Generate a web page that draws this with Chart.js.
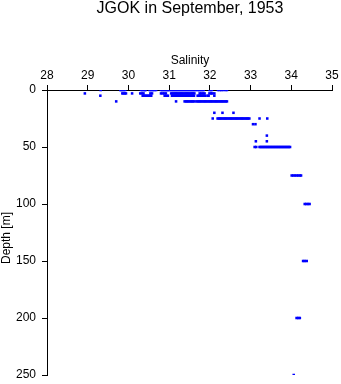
<!DOCTYPE html>
<html>
<head>
<meta charset="utf-8">
<script src="https://cdn.jsdelivr.net/npm/chart.js@4"></script>
<style>
  body { margin: 0; background: #fff; }
  canvas { display: block; }
</style>
</head>
<body>
<canvas id="myChart" width="341" height="384"></canvas>
<script>
const depths = [0, 3, 5, 10, 20, 25, 30, 40, 45, 50, 75, 100, 150, 200, 250];

const sal0 = [29.32, 29.80, 29.83, 29.86, 29.89, 29.92, 30.31, 30.34, 30.37, 30.40, 30.42,
  30.52, 30.55, 30.58, 30.61, 30.64, 30.68, 30.80, 30.83, 30.86, 30.89, 30.92, 30.95, 30.98, 31.01,
  31.05, 31.08, 31.11, 31.14, 31.17, 31.20, 31.23, 31.26, 31.29, 31.32, 31.35, 31.38, 31.41, 31.44,
  31.47, 31.50, 31.53, 31.56, 31.59, 31.62, 31.65, 31.70, 31.73, 31.76, 31.79, 31.82, 31.85,
  31.99, 32.02, 32.05, 32.20, 32.24, 32.28, 32.32, 32.38, 32.42];
const sal3 = [28.93, 29.85, 29.88, 29.91, 29.94, 30.09, 30.29, 30.33, 30.37, 30.54, 30.58,
  30.80, 30.84, 30.88, 30.92, 31.05, 31.08, 31.11, 31.14, 31.17, 31.20, 31.23, 31.26, 31.29, 31.32,
  31.35, 31.38, 31.41, 31.44, 31.47, 31.50, 31.53, 31.56, 31.59, 31.62, 31.75, 31.79, 31.83, 31.87,
  31.99, 32.03, 32.06, 32.11];
const sal5 = [29.31, 30.35, 30.38, 30.41, 30.44, 30.47, 30.50, 30.53, 30.56, 30.89, 30.93, 30.97,
  31.07, 31.10, 31.13, 31.16, 31.19, 31.22, 31.25, 31.28, 31.31, 31.34, 31.37, 31.40, 31.43, 31.46,
  31.49, 31.52, 31.55, 31.58, 31.61, 31.70, 31.73, 31.76, 31.79, 31.82, 31.85, 31.88, 31.94, 31.97, 32.11];
const sal10 = [29.70, 31.17, 31.38, 31.41, 31.44, 31.47, 31.50, 31.53, 31.56, 31.59, 31.62, 31.67,
  31.70, 31.73, 31.76, 31.79, 31.82, 31.85, 31.88, 31.91, 31.94, 31.97, 32.00, 32.03, 32.06, 32.09,
  32.12, 32.15, 32.18, 32.21, 32.24, 32.27, 32.30, 32.33, 32.36, 32.39, 32.42];
const sal20 = [32.11, 32.31, 32.58];
const sal25 = [32.07, 32.19, 32.22, 32.25, 32.28, 32.31, 32.34, 32.37, 32.40, 32.43, 32.46, 32.49,
  32.52, 32.55, 32.58, 32.61, 32.64, 32.67, 32.70, 32.73, 32.76, 32.79, 32.82, 32.85, 32.88, 32.91,
  32.94, 32.97, 33.22, 33.41];
const sal30 = [33.06, 33.12];
const sal40 = [33.40];
const sal45 = [33.13, 33.40];
const sal50 = [33.10, 33.14, 33.22, 33.25, 33.28, 33.31, 33.34, 33.37, 33.40, 33.43, 33.46, 33.49,
  33.52, 33.55, 33.58, 33.61, 33.64, 33.67, 33.70, 33.73, 33.76, 33.79, 33.82, 33.85, 33.88, 33.91,
  33.94, 33.97];
const sal75 = [34.01, 34.05, 34.09, 34.13, 34.17, 34.21, 34.24];
const sal100 = [34.33, 34.37, 34.41, 34.45];
const sal150 = [34.29, 34.33, 34.38];
const sal200 = [34.13, 34.17, 34.21];
const sal250 = [34.06];

const salinityByDepth = [sal0, sal3, sal5, sal10, sal20, sal25, sal30, sal40, sal45, sal50,
  sal75, sal100, sal150, sal200, sal250];

const xTicks = [28, 29, 30, 31, 32, 33, 34, 35];
const yTicks = [0, 50, 100, 150, 200, 250];

const FONT = "'Liberation Sans', Arial, Helvetica, sans-serif";

// puntos (salinidad, profundidad)
const puntos = [];
depths.forEach((d, i) => {
  salinityByDepth[i].forEach(s => puntos.push({ x: s, y: d }));
});

// textos: titulo y nombres de ejes
const textos = {
  id: 'textos',
  afterDraw(chart) {
    const ctx = chart.ctx;
    ctx.save();
    ctx.fillStyle = '#000';
    ctx.textAlign = 'center';
    ctx.textBaseline = 'middle';
    ctx.font = '16px ' + FONT;
    ctx.fillText('JGOK in September, 1953', 190, 9);
    ctx.font = '12px ' + FONT;
    ctx.fillText('Salinity', 190, 61);
    ctx.translate(7, 238);
    ctx.rotate(-Math.PI / 2);
    ctx.fillText('Depth [m]', 0, 0);
    ctx.restore();
  }
};

// tamaño fijo de los ejes, sin relleno extra por las etiquetas
const fijarX = s => {
  s.height = 90;
  s.paddingLeft = 0; s.paddingRight = 0;
};
const fijarY = s => {
  s.width = 47;
  s.paddingTop = 0; s.paddingBottom = 0;
};

const ctx = document.getElementById('myChart');
new Chart(ctx, {
  type: 'scatter',
  data: {
    datasets: [{
      data: puntos,
      backgroundColor: '#0000ff',
      borderWidth: 0,
      pointStyle: 'rect',
      pointRadius: 1.8,
      pointHoverRadius: 1.8
    }]
  },
  options: {
    responsive: false,
    animation: false,
    devicePixelRatio: 1,
    layout: { padding: { left: 0, top: 0, right: 9, bottom: 9 } },
    plugins: {
      legend: { display: false },
      tooltip: { enabled: false }
    },
    scales: {
      x: {
        type: 'linear',
        position: 'top',
        min: 28,
        max: 35,
        afterFit: fijarX,
        afterBuildTicks: s => { s.ticks = xTicks.map(v => ({ value: v })); },
        ticks: { color: '#000', font: { family: FONT, size: 12 }, padding: 2 },
        grid: { drawOnChartArea: false, tickLength: 5, color: '#000' },
        border: { color: '#000', width: 1 }
      },
      y: {
        type: 'linear',
        reverse: true,
        min: 0,
        max: 250,
        afterFit: fijarY,
        afterBuildTicks: s => { s.ticks = yTicks.map(v => ({ value: v })); },
        ticks: { color: '#000', font: { family: FONT, size: 12 }, padding: 6 },
        grid: { drawOnChartArea: false, tickLength: 5, color: '#000' },
        border: { color: '#000', width: 1 }
      }
    }
  },
  plugins: [textos]
});
</script>
</body>
</html>
